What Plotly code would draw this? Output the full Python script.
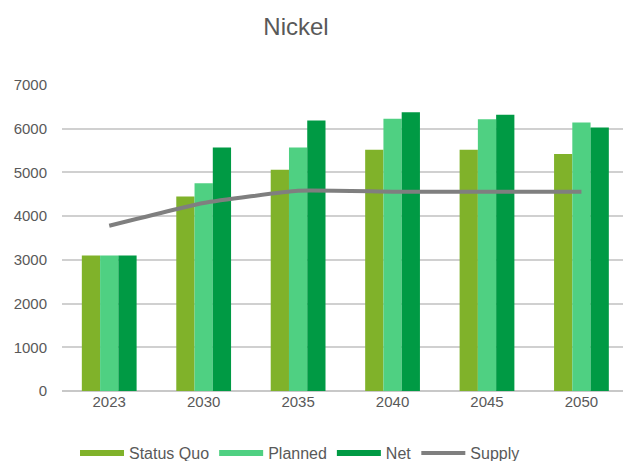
import plotly.graph_objects as go

# Nickel demand scenarios vs. supply (tonnes)
years = ["2023", "2030", "2035", "2040", "2045", "2050"]
status_quo = [3100, 4450, 5060, 5520, 5520, 5420]
planned = [3100, 4750, 5570, 6230, 6215, 6140]
net = [3100, 5570, 6190, 6375, 6320, 6030]
supply = [3780, 4300, 4580, 4560, 4560, 4560]

y_ticks = [0, 1000, 2000, 3000, 4000, 5000, 6000, 7000]

colors = {
    "Status Quo": "#80B22A",
    "Planned": "#4FD082",
    "Net": "#009A44",
    "Supply": "#7F7F7F",
}

FONT = "Liberation Sans, Arial, sans-serif"
TEXT_GREY = "#595959"

fig = go.Figure()

for name, vals in (("Status Quo", status_quo), ("Planned", planned), ("Net", net)):
    fig.add_trace(go.Bar(
        x=years, y=vals, name=name,
        marker=dict(color=colors[name], line=dict(width=0)),
        legendgroup=name, showlegend=False,
    ))
    # flat swatch used as the legend key for each bar series
    fig.add_trace(go.Scatter(
        x=[None], y=[None], mode="lines", name=name,
        line=dict(color=colors[name], width=6),
        legendgroup=name, showlegend=True, hoverinfo="skip",
    ))

fig.add_trace(go.Scatter(
    x=years, y=supply, name="Supply", mode="lines",
    line=dict(color=colors["Supply"], width=4, shape="spline", smoothing=0.4),
))

fig.update_layout(
    width=623, height=461,
    margin=dict(l=62, r=0, t=85, b=70),
    paper_bgcolor="white", plot_bgcolor="white",
    font=dict(family=FONT, size=15, color=TEXT_GREY),
    title=dict(
        text="Nickel", font=dict(family=FONT, size=24, color=TEXT_GREY),
        x=296 / 623, xref="container", xanchor="center",
        y=1 - 27 / 461, yref="container", yanchor="middle",
    ),
    barmode="group", bargap=0.42, bargroupgap=0,
    showlegend=True,
    legend=dict(
        orientation="h",
        x=300 / 623, xref="container", xanchor="center",
        y=1 - 453 / 461, yref="container", yanchor="middle",
        font=dict(family=FONT, size=16, color=TEXT_GREY),
        itemwidth=44, traceorder="normal",
        bgcolor="rgba(0,0,0,0)",
    ),
    xaxis=dict(
        type="category", range=[-0.5, 5.44],
        showgrid=False, zeroline=False, showline=False, ticks="",
        tickfont=dict(family=FONT, size=15, color=TEXT_GREY),
    ),
    yaxis=dict(
        range=[0, 7000], tickvals=y_ticks, ticktext=[str(v) for v in y_ticks],
        showgrid=True, gridcolor="#D0D0D0", gridwidth=1.5,
        zeroline=True, zerolinecolor="#C8C8C8", zerolinewidth=1.5,
        showline=False, ticks="", ticklabelstandoff=14,
        tickfont=dict(family=FONT, size=15, color=TEXT_GREY),
    ),
)

fig.write_html("out.html")
